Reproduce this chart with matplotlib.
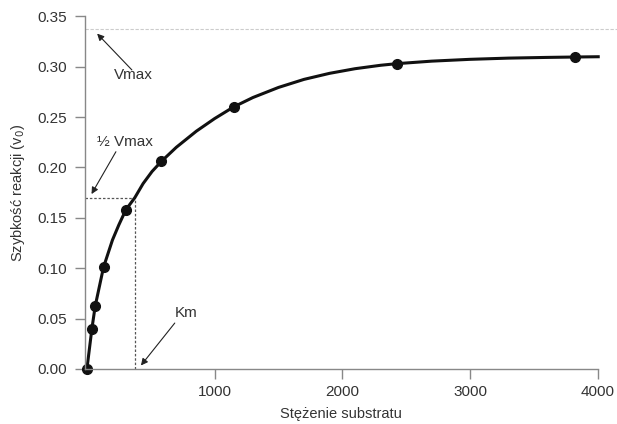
import matplotlib
matplotlib.use("Agg")
import matplotlib.pyplot as plt

plt.rcParams["font.family"] = ["Liberation Sans", "DejaVu Sans"]

# measured points
substrate = [0, 39, 65, 130, 305, 583, 1148, 2427, 3823]
velocity = [0.0, 0.040, 0.0625, 0.101, 0.158, 0.206, 0.260, 0.3026, 0.3095]

# fitted curve
curve_x = [0, 39, 65, 130, 200, 250, 305, 375, 440, 510, 583, 700, 857, 1000, 1148,
           1300, 1500, 1700, 1900, 2100, 2300, 2427, 2700, 3000, 3300, 3600, 3823, 4016]
curve_y = [0.0, 0.040, 0.0625, 0.101, 0.128, 0.143, 0.158, 0.170, 0.184, 0.196, 0.206,
           0.220, 0.236, 0.2485, 0.260, 0.2694, 0.2794, 0.2874, 0.2934, 0.298, 0.3014,
           0.3030, 0.3055, 0.3073, 0.3085, 0.3092, 0.3096, 0.3099]

vmax = 0.337
half_vmax = 0.1696
km = 375

x_ticks = [1000, 2000, 3000, 4000]
y_ticks = [0.00, 0.05, 0.10, 0.15, 0.20, 0.25, 0.30, 0.35]

fig = plt.figure(figsize=(6.17, 4.24), dpi=100)
ax = fig.add_axes([85 / 617, 1 - 369 / 424, (597.7 - 85) / 617, (369 - 16.3) / 424])

grey = "#888888"
text_col = "#333333"

# Vmax line
ax.plot([-15, 4150], [vmax, vmax], linestyle=(0, (3, 1.5)), color="#cccccc", lw=0.8, clip_on=False)
# half Vmax / Km guides
ax.plot([-15, km], [half_vmax, half_vmax], linestyle=(0, (2, 1.5)), color="#555555", lw=0.9)
ax.plot([km, km], [0, half_vmax], linestyle=(0, (2, 1.5)), color="#555555", lw=0.9)

ax.plot(curve_x, curve_y, color="#111111", lw=2.2, clip_on=False,
        solid_capstyle="butt", solid_joinstyle="round")
ax.plot(substrate, velocity, "o", color="#111111", ms=7, clip_on=False)

ax.set_xlim(-15, 4000)
ax.set_ylim(0, 0.35)
ax.set_xticks(x_ticks)
ax.set_yticks(y_ticks)
ax.set_yticklabels([f"{t:.2f}" for t in y_ticks])

for s in ["top", "right"]:
    ax.spines[s].set_visible(False)
for s in ["left", "bottom"]:
    ax.spines[s].set_color(grey)
    ax.spines[s].set_linewidth(1.0)
ax.tick_params(axis="both", colors=grey, labelcolor=text_col, labelsize=11, length=7.5, width=1.0)
ax.tick_params(axis="y", pad=5.5)
ax.tick_params(axis="x", pad=4)

ax.set_xlabel("Stężenie substratu", fontsize=10.5, color=text_col)
ax.set_ylabel("Szybkość reakcji (v$_0$)", fontsize=10.5, color=text_col)
ax.xaxis.set_label_coords(0.5, -0.108)
ax.yaxis.set_label_coords(-0.113, 0.5)

arrow = dict(arrowstyle="-|>", color="#222222", lw=0.8, mutation_scale=10, shrinkA=0, shrinkB=0)
ax.annotate("", xy=(80, 0.3328), xytext=(352, 0.2968), arrowprops=arrow, annotation_clip=False)
ax.text(360, 0.2915, "Vmax", fontsize=11, color=text_col, ha="center", va="center")

ax.annotate("", xy=(36, 0.1736), xytext=(227, 0.2156), arrowprops=arrow, annotation_clip=False)
ax.text(300, 0.2253, "½ Vmax", fontsize=11, color=text_col, ha="center", va="center")

ax.annotate("", xy=(423, 0.0035), xytext=(688, 0.0456), arrowprops=arrow, annotation_clip=False)
ax.text(775, 0.0555, "Km", fontsize=11, color=text_col, ha="center", va="center")

fig.savefig("out.png", dpi=100)
